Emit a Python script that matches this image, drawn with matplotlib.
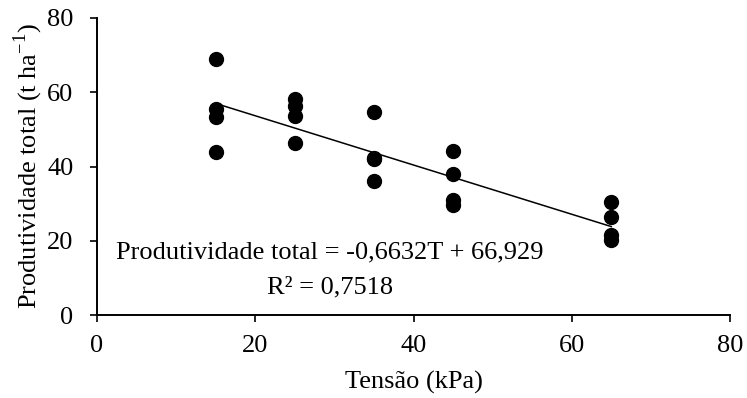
import matplotlib
matplotlib.use("Agg")
import matplotlib.pyplot as plt
import numpy as np

plt.rcParams['font.family'] = ['Liberation Serif', 'DejaVu Serif']

tensao = [15, 15, 15, 15,
          25, 25, 25, 25,
          35, 35, 35, 35,
          45, 45, 45, 45,
          65, 65, 65, 65]
produtividade = [69.0, 55.5, 53.2, 44.0,
                 58.2, 56.3, 53.6, 46.4,
                 54.7, 42.3, 42.0, 36.1,
                 44.3, 37.9, 31.0, 29.6,
                 30.5, 26.5, 21.6, 20.2]
slope = -0.6632
intercept = 66.929
trend_x = [15, 65]
x_ticks = [0, 20, 40, 60, 80]
y_ticks = [0, 20, 40, 60, 80]
eq_text = "Produtividade total = -0,6632T + 66,929"
r2_text = "R² = 0,7518"

fig = plt.figure(figsize=(7.47, 3.98), dpi=100)
ax = fig.add_axes([0.1299, 0.2085, 0.9772 - 0.1299, 0.9548 - 0.2085])

ax.scatter(tensao, produtividade, s=100, color='black', zorder=3, clip_on=False)
tx = np.array(trend_x, dtype=float)
ax.plot(tx, slope * tx + intercept, color='black', linewidth=1.1, zorder=2)

ax.set_xlim(0, 80)
ax.set_ylim(0, 80)
ax.set_xticks(x_ticks)
ax.set_yticks(y_ticks)
ax.tick_params(axis='both', labelsize=19, length=5, width=1.2, direction='out')
ax.tick_params(axis='x', pad=9.5)
ax.tick_params(axis='y', pad=12)
for side in ['top', 'right']:
    ax.spines[side].set_visible(False)
for side in ['left', 'bottom']:
    ax.spines[side].set_linewidth(1.4)

ax.set_xlabel("Tensão (kPa)", fontsize=19, labelpad=10)
ax.set_ylabel("Produtividade total (t ha$^{\\mathregular{-1}}$)", fontsize=19, labelpad=1.5)

ax.text(0.368, 0.209, eq_text, transform=ax.transAxes, fontsize=19,
        ha='center', va='center')
ax.text(0.368, 0.094, r2_text, transform=ax.transAxes, fontsize=19,
        ha='center', va='center')

fig.savefig("out.png", dpi=100)
